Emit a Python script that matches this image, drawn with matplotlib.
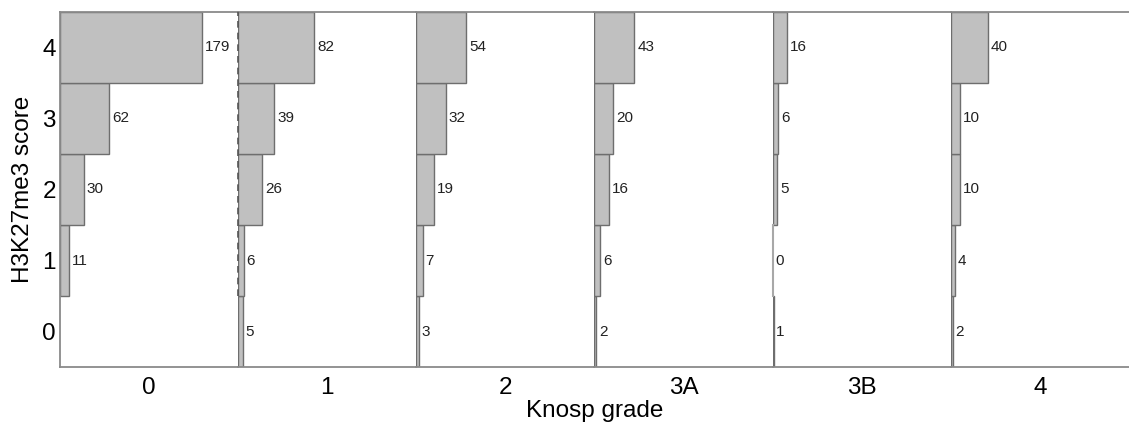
import numpy as np
import matplotlib
matplotlib.use('Agg')
import matplotlib.pyplot as plt

plt.rcParams['font.family'] = ['Liberation Sans', 'DejaVu Sans']

grades = ['0', '1', '2', '3A', '3B', '4']
scores = [0, 1, 2, 3, 4]

# counts for score 0..4 within each Knosp grade
counts_g0 = [np.nan, 11, 30, 62, 179]
counts_g1 = [5, 6, 26, 39, 82]
counts_g2 = [3, 7, 19, 32, 54]
counts_g3a = [2, 6, 16, 20, 43]
counts_g3b = [1, 0, 5, 6, 16]
counts_g4 = [2, 4, 10, 10, 40]
all_counts = [counts_g0, counts_g1, counts_g2, counts_g3a, counts_g3b, counts_g4]

# horizontal extent of each panel (in counts)
panel_xmax = [225, 192, 192, 192, 192, 192]

bar_fill = '#c0c0c0'
bar_edge = '#6e6e6e'
spine_col = '#8a8a8a'

fig, axes = plt.subplots(1, 6, figsize=(11.29, 4.28), dpi=100, sharey=True)
fig.subplots_adjust(left=0.0531, right=1.0, bottom=0.1425, top=0.972, wspace=0)

for i, ax in enumerate(axes):
    vals = all_counts[i]
    for s, v in zip(scores, vals):
        if np.isnan(v):
            continue
        if v > 0:
            ax.barh(s, v, height=1.0, color=bar_fill, edgecolor=bar_edge, linewidth=1.0)
        else:
            ax.plot([v, v], [s - 0.5, s + 0.5], color='#a8a8a8', linewidth=1.5,
                    clip_on=False, zorder=4)
        ax.annotate(str(int(v)), xy=(v, s), xytext=(2, 0), textcoords='offset points',
                    ha='left', va='center', fontsize=11, color='#222222')
    ax.set_xlim(0, panel_xmax[i])
    ax.set_ylim(-0.5, 4.5)
    ax.set_xticks([panel_xmax[i] / 2])
    ax.set_xticklabels([grades[i]], fontsize=17.5)
    ax.tick_params(axis='both', length=0, pad=7)
    for side in ['top', 'bottom']:
        ax.spines[side].set_color(spine_col)
        ax.spines[side].set_linewidth(1.3)
    ax.spines['right'].set_visible(False)
    if i == 0:
        ax.spines['left'].set_color(spine_col)
        ax.spines['left'].set_linewidth(1.3)
    else:
        ax.spines['left'].set_visible(False)

# dashed outline along left edge of grade 1 panel
axes[1].plot([0, 0], [0.5, 4.5], color='#555555', linestyle=(0, (4, 3)), linewidth=1.2,
             zorder=5, clip_on=False)

axes[0].set_yticks(scores)
axes[0].set_yticklabels([str(s) for s in scores], fontsize=17.5)
axes[0].tick_params(axis='y', pad=3)
axes[0].set_ylabel('H3K27me3 score', fontsize=17.5, labelpad=6)
fig.text(0.5265, 0.04, 'Knosp grade', ha='center', va='center', fontsize=17.5)

plt.savefig('out.png', dpi=100)
plt.close()
